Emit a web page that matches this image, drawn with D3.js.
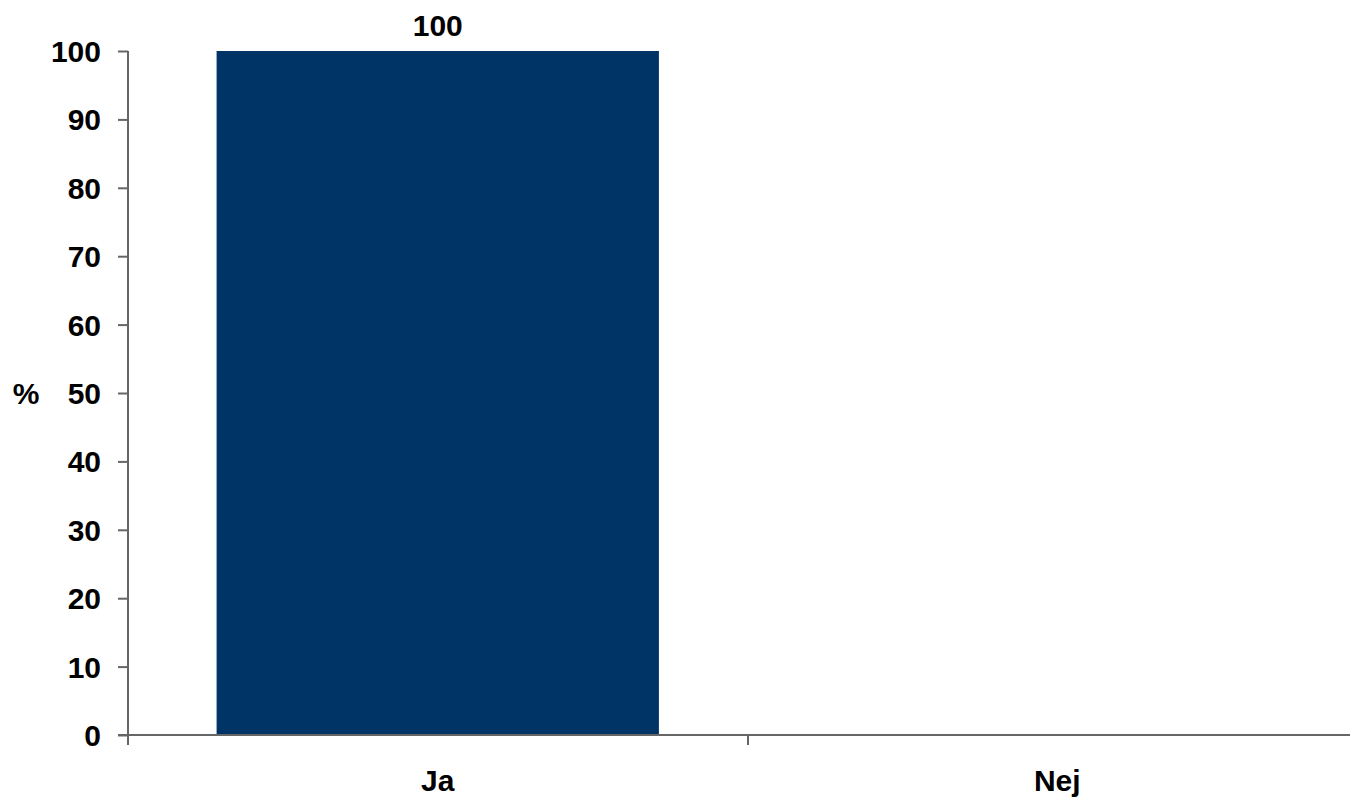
<!DOCTYPE html>
<html>
<head>
<meta charset="utf-8">
<script src="https://cdn.jsdelivr.net/npm/d3@7"></script>
<style>
  html, body { margin: 0; padding: 0; background: #fff; }
  svg { display: block; }
  text { font-family: "Liberation Sans", Arial, sans-serif; font-weight: bold; fill: #000; }
</style>
</head>
<body>
<svg id="chart" width="1350" height="797"></svg>
<script>
const categories = ["Ja", "Nej"];
const values = [100, 0];
const yTicks = [0, 10, 20, 30, 40, 50, 60, 70, 80, 90, 100];
const yLabel = "%";

const svg = d3.select("#chart");
const x0 = 128, x1 = 1367, yTop = 51, yBottom = 735;
const fs = "30px";

const x = d3.scaleBand().domain(categories).range([x0, x1]).paddingInner(0.286).paddingOuter(0.143);
const y = d3.scaleLinear().domain([0, 100]).range([yBottom, yTop]);

const axisColor = "#666";

// bars
svg.selectAll("rect.bar").data(categories.map((c, i) => ({c, v: values[i]})).filter(d => d.v > 0))
  .enter().append("rect")
  .attr("class", "bar")
  .attr("x", d => x(d.c))
  .attr("y", d => y(d.v))
  .attr("width", x.bandwidth())
  .attr("height", d => y(0) - y(d.v))
  .attr("fill", "#003366");

// value labels
svg.selectAll("text.val").data(categories.map((c, i) => ({c, v: values[i]})).filter(d => d.v > 0))
  .enter().append("text")
  .attr("class", "val")
  .attr("x", d => x(d.c) + x.bandwidth() / 2)
  .attr("y", d => y(d.v) - 15)
  .attr("text-anchor", "middle")
  .style("font-size", fs)
  .text(d => d.v);

// y axis
const yAxis = d3.axisLeft(y).tickValues(yTicks).tickSize(10).tickPadding(17).tickSizeOuter(0);
const gy = svg.append("g").attr("transform", `translate(${x0},0)`).call(yAxis);
gy.select(".domain").attr("stroke", axisColor).attr("stroke-width", 2).attr("d", `M0,${yTop}V${yBottom + 10}`);
gy.selectAll(".tick line").attr("stroke", axisColor).attr("stroke-width", 2);
gy.selectAll(".tick text").style("font-size", fs).style("font-family", "'Liberation Sans', Arial, sans-serif").style("font-weight", "bold").attr("fill", "#000").attr("dy", "0.35em");

// x axis
const boundaries = [x0, (x(categories[0]) + x.bandwidth() + x(categories[1])) / 2, x1];
svg.append("line").attr("x1", x0 - 10).attr("x2", x1).attr("y1", yBottom).attr("y2", yBottom)
  .attr("stroke", axisColor).attr("stroke-width", 2);
svg.selectAll("line.xtick").data(boundaries.slice(1)).enter().append("line")
  .attr("x1", d => Math.round(d)).attr("x2", d => Math.round(d))
  .attr("y1", yBottom).attr("y2", yBottom + 10)
  .attr("stroke", axisColor).attr("stroke-width", 2);

svg.selectAll("text.cat").data(categories).enter().append("text")
  .attr("class", "cat")
  .attr("x", d => x(d) + x.bandwidth() / 2)
  .attr("y", 791)
  .attr("text-anchor", "middle")
  .style("font-size", fs)
  .text(d => d);

// y label
svg.append("text").attr("x", 26).attr("y", y(50)).attr("dy", "0.35em")
  .attr("text-anchor", "middle").style("font-size", fs).text(yLabel);
</script>
</body>
</html>
